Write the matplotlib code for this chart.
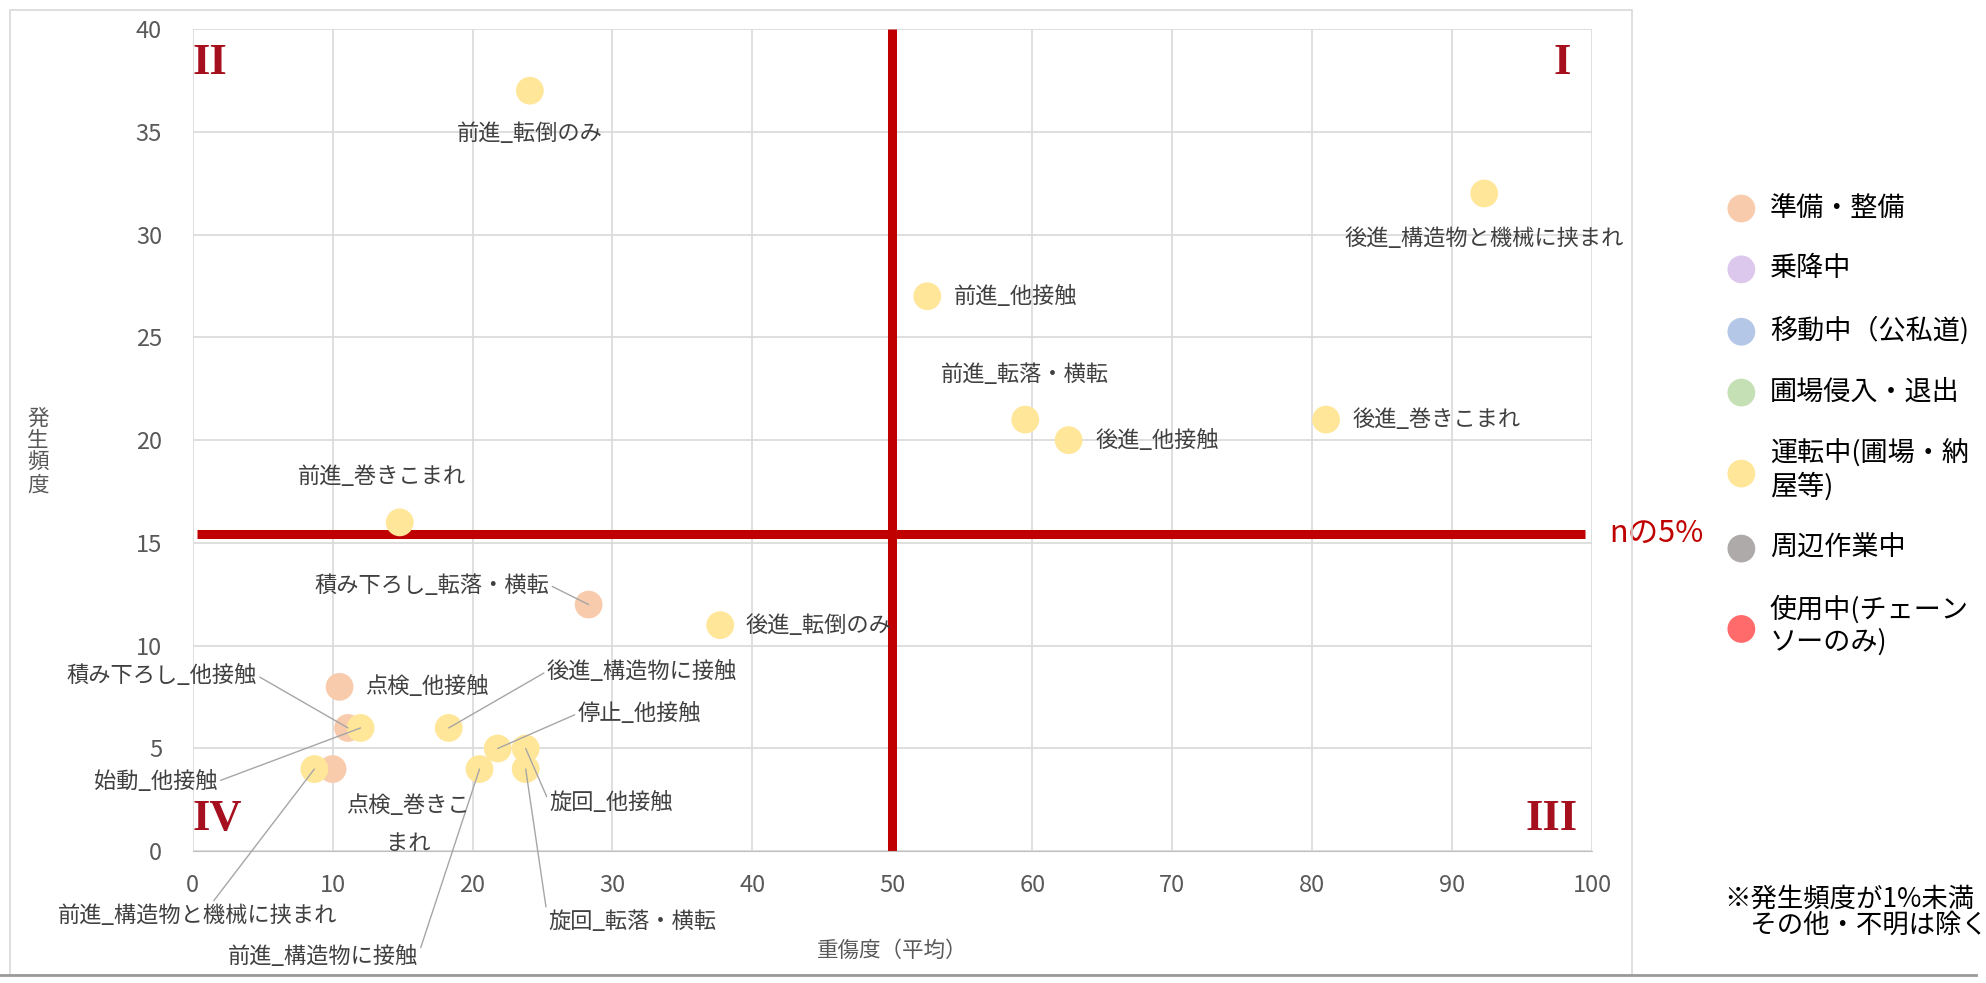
import matplotlib
matplotlib.use("Agg")
import matplotlib.pyplot as plt
from matplotlib.patches import Rectangle
from matplotlib.lines import Line2D

plt.rcParams["font.family"] = ["Noto Sans CJK JP", "DejaVu Sans"]

# 凡例の分類と色
CATEGORIES = ["準備・整備", "乗降中", "移動中（公私道)", "圃場侵入・退出",
              "運転中(圃場・納\n屋等)", "周辺作業中", "使用中(チェーン\nソーのみ)"]
CATEGORY_COLORS = ["#F8CBAD", "#DCC8EC", "#B4C7E7", "#C5E0B4",
                   "#FFE699", "#AEAAAA", "#FF6B6B"]

# 各事故型のデータ (重傷度の平均, 発生頻度, 分類番号)
LABELS = ["前進_転倒のみ", "後進_構造物と機械に挟まれ", "前進_他接触", "前進_転落・横転",
          "後進_他接触", "後進_巻きこまれ", "前進_巻きこまれ", "積み下ろし_転落・横転",
          "後進_転倒のみ", "点検_他接触", "積み下ろし_他接触", "始動_他接触",
          "後進_構造物に接触", "停止_他接触", "旋回_他接触", "旋回_転落・横転",
          "前進_構造物に接触", "前進_構造物と機械に挟まれ", "点検_巻きこ\nまれ"]
SEVERITY = [24.1, 92.3, 52.5, 59.5, 62.6, 81.0, 14.8, 28.3, 37.7, 10.5,
            11.1, 12.0, 18.3, 21.8, 23.8, 23.8, 20.5, 8.7, 10.0]
FREQUENCY = [37, 32, 27, 21, 20, 21, 16, 12, 11, 8,
             6, 6, 6, 5, 5, 4, 4, 4, 4]
CATEGORY_IDX = [4, 4, 4, 4, 4, 4, 4, 0, 4, 0,
                0, 4, 4, 4, 4, 4, 4, 4, 0]

# ラベル位置 (x, y, ha, 引き出し線)
LABEL_POS = [
    (24.1, 34.9, "center", False),
    (92.3, 29.8, "center", False),
    (54.4, 27.0, "left", False),
    (59.5, 23.2, "center", False),
    (64.5, 20.0, "left", False),
    (82.9, 21.0, "left", False),
    (13.5, 18.25, "center", False),
    (25.5, 12.95, "right", True),
    (39.5, 11.0, "left", False),
    (12.3, 8.0, "left", False),
    (4.6, 8.55, "right", True),
    (1.8, 3.4, "right", True),
    (25.3, 8.75, "left", True),
    (27.5, 6.7, "left", True),
    (25.5, 2.35, "left", True),
    (25.4, -3.4, "left", True),
    (16.1, -5.1, "right", True),
    (0.36, -3.1, "center", True),
    (15.4, 1.3, "center", False),
]
RELPOS = {"left": (0.0, 0.5), "right": (1.0, 0.5), "center": (0.55, 1.0)}

THRESHOLD_X = 50
THRESHOLD_Y = 15.45

RED = "#C00000"
QUAD_COLOR = "#A50F1E"
TEXT_GRAY = "#404040"


def main():
    fig = plt.figure(figsize=(19.86, 9.83), dpi=100)
    ax = fig.add_axes([0.097, 0.134, 0.7046, 0.8365])

    for c, (cat, color) in enumerate(zip(CATEGORIES, CATEGORY_COLORS)):
        xs = [x for x, k in zip(SEVERITY, CATEGORY_IDX) if k == c]
        ys = [y for y, k in zip(FREQUENCY, CATEGORY_IDX) if k == c]
        ax.scatter(xs, ys, s=400, color=color, edgecolors="none",
                   label=cat, zorder=3)

    ax.set_xlim(0, 100)
    ax.set_ylim(0, 40)
    ax.set_xticks(range(0, 101, 10))
    ax.set_yticks(range(0, 41, 5))
    ax.grid(True, color="#D9D9D9", lw=1.2)
    ax.set_axisbelow(True)
    ax.tick_params(length=0, labelsize=17, labelcolor="#595959")
    ax.tick_params(axis="x", pad=16)
    ax.tick_params(axis="y", pad=22)
    for side in ["top", "right", "left"]:
        ax.spines[side].set_visible(False)
    ax.spines["bottom"].set_color("#BFBFBF")

    # 閾値の赤線
    ax.plot([THRESHOLD_X, THRESHOLD_X], [0, 40], color=RED, lw=6.5,
            solid_capstyle="butt", zorder=2)
    ax.plot([0.3, 99.5], [THRESHOLD_Y, THRESHOLD_Y], color=RED, lw=6.5,
            solid_capstyle="butt", zorder=2)
    ax.text(101.2, THRESHOLD_Y, "nの5%", color=RED, fontsize=22,
            ha="left", va="center", clip_on=False)

    # 象限番号
    quad_font = dict(family="Liberation Serif", fontweight="bold",
                     color=QUAD_COLOR, fontsize=32)
    ax.text(98.5, 39.3, "I", ha="right", va="top", **quad_font)
    ax.text(0.0, 39.3, "II", ha="left", va="top", **quad_font)
    ax.text(99, 0.6, "III", ha="right", va="bottom", **quad_font)
    ax.text(0.0, 0.6, "IV", ha="left", va="bottom", **quad_font)

    # データラベル
    for label, x, y, (lx, ly, ha, leader) in zip(LABELS, SEVERITY, FREQUENCY, LABEL_POS):
        if leader:
            ax.annotate(label, xy=(x, y), xytext=(lx, ly), ha=ha, va="center",
                        fontsize=16, color=TEXT_GRAY, annotation_clip=False,
                        arrowprops=dict(arrowstyle="-", color="#A6A6A6", lw=1,
                                        shrinkA=0, shrinkB=0,
                                        relpos=RELPOS[ha]),
                        zorder=4)
        else:
            ax.text(lx, ly, label, ha=ha, va="center", fontsize=16,
                    color=TEXT_GRAY, linespacing=1.8, clip_on=False, zorder=4)

    ax.set_xlabel("重傷度（平均）", fontsize=15.5, color="#595959", labelpad=31)
    fig.text(0.019, 0.54, "発\n生\n頻\n度", fontsize=15.5, color="#595959",
             ha="center", va="center", linespacing=1.0)

    fig.legend(loc="upper left", bbox_to_anchor=(0.870, 0.802),
               bbox_transform=fig.transFigure, frameon=False, fontsize=19.5,
               handlelength=1.0, handletextpad=0.55, labelspacing=1.25,
               borderpad=0, borderaxespad=0, scatterpoints=1)

    fig.text(0.868, 0.072, "※発生頻度が1%未満\n\u3000その他・不明は除く",
             fontsize=19, color="black", ha="left", va="center", linespacing=1.0)

    # グラフ枠と下線
    fig.add_artist(Rectangle((0.005, 0.008), 0.8167, 0.982, transform=fig.transFigure,
                             fill=False, edgecolor="#D9D9D9", lw=1.2))
    fig.add_artist(Line2D([0, 0.995], [0.008, 0.008], transform=fig.transFigure,
                          color="#999999", lw=2))

    fig.savefig("out.png", dpi=100)
    plt.close(fig)


if __name__ == "__main__":
    main()
